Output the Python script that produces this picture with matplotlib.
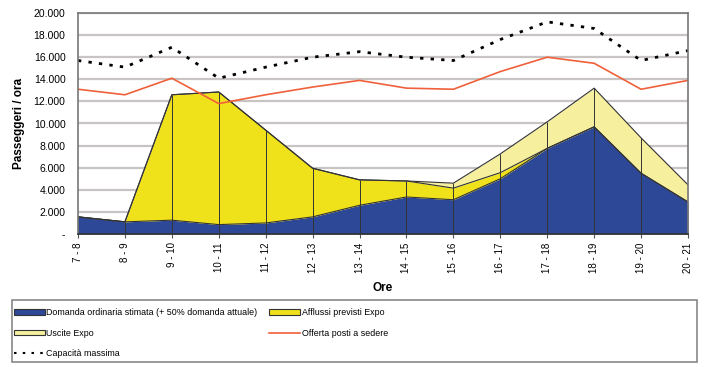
import matplotlib.pyplot as plt
import numpy as np
from matplotlib.patches import Patch, Rectangle
from matplotlib.lines import Line2D
from matplotlib.ticker import FuncFormatter

plt.rcParams['font.family'] = ['Liberation Sans', 'DejaVu Sans']

ore = ['7 - 8', '8 - 9', '9 - 10', '10 - 11', '11 - 12', '12 - 13', '13 - 14',
       '14 - 15', '15 - 16', '16 - 17', '17 - 18', '18 - 19', '19 - 20', '20 - 21']
domanda = [1550, 1100, 1250, 850, 1000, 1550, 2600, 3350, 3100, 5000, 7750, 9700, 5500, 2900]
afflussi = [0, 0, 11350, 12000, 8400, 4400, 2300, 1450, 1050, 550, 0, 0, 0, 0]
uscite = [0, 0, 0, 0, 0, 0, 0, 0, 450, 1700, 2400, 3500, 3200, 1550]
offerta = [13100, 12600, 14100, 11800, 12600, 13300, 13900, 13200, 13100, 14700, 16000, 15450, 13100, 13900]
capacita = [15700, 15100, 16900, 14100, 15100, 16000, 16500, 16000, 15700, 17600, 19200, 18600, 15700, 16600]

c_blu = '#2c4897'
c_giallo = '#f0e21a'
c_giallo_chiaro = '#f6f09e'
c_rosso = '#f0603a'
c_bordo = '#333333'

x = np.arange(len(ore))
d = np.array(domanda)
a = d + np.array(afflussi)
u = a + np.array(uscite)

fig = plt.figure(figsize=(7.05, 3.67), dpi=100)
ax = fig.add_axes([78 / 705, 1 - 234 / 367, 610 / 705, 221 / 367])

# aree impilate: domanda, afflussi, uscite
ax.fill_between(x, 0, d, color=c_blu, lw=0)
ax.fill_between(x, d, a, color=c_giallo, lw=0)
ax.fill_between(x, a, u, color=c_giallo_chiaro, lw=0)
ax.plot(x, d, color=c_bordo, lw=0.8)
ax.plot(x, a, color=c_bordo, lw=0.8)
ax.plot(x, u, color=c_bordo, lw=0.8)
ax.vlines(x, 0, u, color=c_bordo, lw=0.7)

ax.plot(x, offerta, color=c_rosso, lw=1.2)
ax.plot(x, capacita, color='black', lw=2, linestyle=(0, (1.2, 2.6)))

ax.set_xlim(0, len(ore) - 1)
ax.set_ylim(0, 20000)
ax.set_yticks(np.arange(0, 20001, 2000))
ax.yaxis.set_major_formatter(FuncFormatter(
    lambda v, p: '-' if v == 0 else f'{int(v):,}'.replace(',', '.')))
ax.grid(axis='y', color='#c8c4c4', lw=1.6)
ax.set_axisbelow(True)
ax.set_xticks(x)
ax.set_xticklabels(ore, rotation=90, fontsize=7)
ax.tick_params(axis='y', labelsize=7.5, length=0, pad=9)
ax.tick_params(axis='x', length=3, color='#555555', pad=3)
for s in ax.spines.values():
    s.set_color('#777777')
    s.set_linewidth(1.2)
ax.spines['bottom'].set_color('#333333')

ax.set_ylabel('Passeggeri / ora', fontsize=8.5, fontweight='bold', labelpad=6)
ax.set_xlabel('Ore', fontsize=8.5, fontweight='bold', labelpad=7)

# cornice della legenda
fig.patches.append(Rectangle((12 / 705, 1 - 362 / 367), 685 / 705, 62 / 367,
                             transform=fig.transFigure, fill=False,
                             edgecolor='#888888', lw=1.2))

handles = [
    Patch(facecolor=c_blu, edgecolor=c_bordo, lw=0.8),
    Patch(facecolor=c_giallo_chiaro, edgecolor=c_bordo, lw=0.8),
    Line2D([], [], color='black', lw=1.5, linestyle=(0, (1.2, 3))),
    Patch(facecolor=c_giallo, edgecolor=c_bordo, lw=0.8),
    Line2D([], [], color=c_rosso, lw=1.2),
]
labels = ['Domanda ordinaria stimata (+ 50% domanda attuale)', 'Uscite Expo',
          'Capacità massima', 'Afflussi previsti Expo', 'Offerta posti a sedere']
fig.legend(handles, labels, ncol=2, loc='upper left',
           bbox_to_anchor=(14 / 705, 1 - 308 / 367),
           fontsize=6.4, frameon=False,
           handlelength=3.5, handleheight=0.55, handletextpad=0.15,
           labelspacing=1.3, columnspacing=1.3, borderaxespad=0, borderpad=0)

fig.savefig('out.png', dpi=100)
